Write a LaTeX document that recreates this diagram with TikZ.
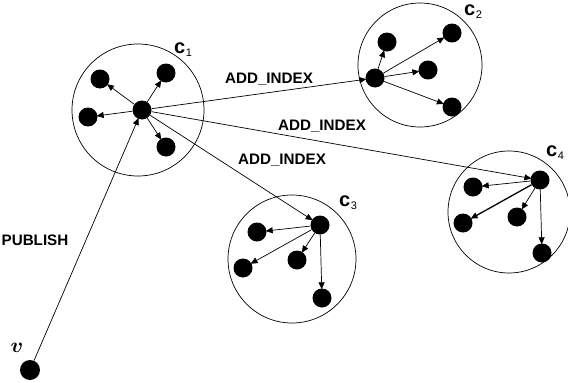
\documentclass[tikz,border=0pt]{standalone}
\usepackage{fix-cm}
\usepackage{bm}
\usepackage{fontspec}
\setmainfont{Liberation Sans}
\newfontfamily\courb{Liberation Mono Bold}
\usetikzlibrary{arrows.meta}
\tikzset{
  dot/.style={circle,fill=black,draw=none,minimum size=19pt,inner sep=0pt},
  cluster/.style={circle,draw=black,line width=0.7pt,inner sep=0pt},
  link/.style={line width=0.7pt,-{Triangle[length=7pt,width=6pt]},shorten >=-1pt},
  msg/.style={font=\fontsize{15.2}{17}\selectfont\bfseries},
  clabel/.style={inner sep=0pt}
}
\newcommand{\clab}[1]{{\courb\fontsize{20}{20}\selectfont c}\raisebox{-3pt}{\fontsize{11}{11}\selectfont #1}}
\begin{document}
\begin{tikzpicture}[x=1pt,y=-1pt]
\useasboundingbox (0,0) rectangle (568,383);
% clusters
\node[cluster,minimum size=132pt] (k1) at (138,110) {};
\node[cluster,minimum size=124pt] (k2) at (420,65) {};
\node[cluster,minimum size=128pt] (k3) at (292,259) {};
\node[cluster,minimum size=122pt] (k4) at (509,212) {};
\node[clabel] (l1) at (183,50) {\clab{1}};
\node[clabel] (l2) at (473,12) {\clab{2}};
\node[clabel] (l3) at (348,203) {\clab{3}};
\node[clabel] (l4) at (555,153) {\clab{4}};
% cluster 1
\node[dot] (a0) at (142,110) {};
\node[dot] (a1) at (100,79) {};
\node[dot] (a2) at (166,73) {};
\node[dot] (a3) at (88,117) {};
\node[dot] (a4) at (166,147) {};
% cluster 2
\node[dot] (b0) at (375,78) {};
\node[dot] (b1) at (387,42) {};
\node[dot] (b2) at (452,33) {};
\node[dot] (b3) at (428,70) {};
\node[dot] (b4) at (452,107) {};
% cluster 3
\node[dot] (c0) at (320,225) {};
\node[dot] (c1) at (257,232) {};
\node[dot] (c2) at (243,268) {};
\node[dot] (c3) at (297,260) {};
\node[dot] (c4) at (322,298) {};
% cluster 4
\node[dot] (d0) at (540,180) {};
\node[dot] (d1) at (473,187) {};
\node[dot] (d2) at (463,223) {};
\node[dot] (d3) at (517,217) {};
\node[dot] (d4) at (542,253) {};
% publisher
\node[dot,minimum size=20pt] (v) at (30,370) {};
\node[font=\fontsize{21}{21}\selectfont] (vl) at (17,348) {$\bm{v}$};
% edges
\foreach \s/\t in {a0/a1,a0/a2,a0/a3,a0/a4,b0/b1,b0/b2,b0/b3,b0/b4,c0/c1,c0/c2,c0/c3,c0/c4,d0/d1,d0/d3,d0/d4}
  \draw[link] (\s) -- (\t);
\draw[link,line width=1.3pt] (d0) -- (d2);
\draw[link] (a0) -- (b0);
\draw[link] (a0) -- (d0);
\draw[link] (a0) -- (c0);
\draw[link] (v) -- (a0);
% message labels
\node[msg] (m1) at (269,79) {ADD\_INDEX};
\node[msg] (m2) at (322,126) {ADD\_INDEX};
\node[msg] (m3) at (282,160) {ADD\_INDEX};
\node[msg] (m4) at (35,240) {PUBLISH};
\end{tikzpicture}
\end{document}
